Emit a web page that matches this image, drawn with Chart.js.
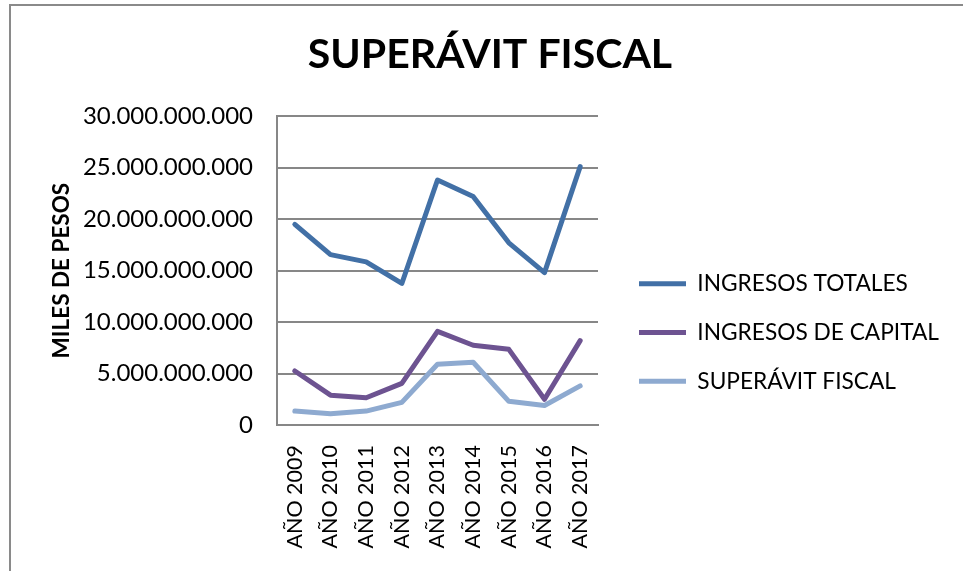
<!DOCTYPE html>
<html>
<head>
<meta charset="utf-8">
<script src="https://cdn.jsdelivr.net/npm/chart.js@4.4.0/dist/chart.umd.min.js"></script>
<style>
  body { margin: 0; background: #fff; }
  #wrap {
    position: absolute; left: 9px; top: 4px;
    width: 954px; height: 567px;
    border-top: 2px solid #8a8a8a; border-left: 2px solid #8a8a8a;
  }
  canvas { display: block; }
</style>
</head>
<body>
<div id="wrap"><canvas id="chart" width="952" height="565"></canvas></div>
<script>
// categories and series values (miles de pesos)
const years = ['AÑO 2009', 'AÑO 2010', 'AÑO 2011', 'AÑO 2012', 'AÑO 2013', 'AÑO 2014', 'AÑO 2015', 'AÑO 2016', 'AÑO 2017'];
const ingresosTotales = [19500000000, 16550000000, 15850000000, 13750000000, 23800000000, 22200000000, 17700000000, 14800000000, 25100000000];
const ingresosCapital = [5250000000, 2900000000, 2650000000, 4050000000, 9100000000, 7750000000, 7350000000, 2500000000, 8200000000];
const superavitFiscal = [1350000000, 1100000000, 1350000000, 2200000000, 5900000000, 6100000000, 2300000000, 1900000000, 3800000000];
const yTicks = [0, 5000000000, 10000000000, 15000000000, 20000000000, 25000000000, 30000000000];

const FONT = 'Lato, "Liberation Sans", sans-serif';
const gridColor = '#878787';
const LEGEND_WIDTH = 341;

function formatMiles(v) {
    return String(v).replace(/\B(?=(\d{3})+(?!\d))/g, '.');
}

function makeSeries(label, data, color) {
    return {
        label: label,
        data: data,
        borderColor: color,
        backgroundColor: color,
        borderWidth: 5,
        borderCapStyle: 'round',
        borderJoinStyle: 'round',
        pointRadius: 0,
        pointHoverRadius: 0,
        tension: 0,
        fill: false
    };
}

// Excel gives the legend a wide box on the right and sits it lower than Chart.js does
const legendShift = {
    id: 'legendShift',
    beforeLayout(chart) {
        const lg = chart.legend;
        if (lg && !lg._wideFit) {
            const fit = lg.fit.bind(lg);
            lg.fit = function () {
                fit();
                this.width = LEGEND_WIDTH;
            };
            lg._wideFit = true;
        }
    },
    afterLayout(chart) {
        const lg = chart.legend;
        const dx = 15, dy = 44;
        lg.left += dx;
        lg.right = lg.left + LEGEND_WIDTH;
        lg.top += dy;
        lg.bottom += dy;
    }
};

const ctx = document.getElementById('chart').getContext('2d');
const chart = new Chart(ctx, {
    type: 'line',
    data: {
        labels: years,
        datasets: [
            makeSeries('INGRESOS TOTALES', ingresosTotales, '#4270a6'),
            makeSeries('INGRESOS DE CAPITAL', ingresosCapital, '#6d5391'),
            makeSeries('SUPERÁVIT FISCAL', superavitFiscal, '#8eaad0')
        ]
    },
    options: {
        responsive: false,
        animation: false,
        devicePixelRatio: 1,
        layout: { padding: { left: 30, right: 24, top: 0, bottom: 0 } },
        plugins: {
            title: {
                display: true,
                text: 'SUPERÁVIT FISCAL',
                color: '#000',
                font: { family: FONT, size: 41, weight: 'bold' },
                padding: { top: 24, bottom: 37 }
            },
            legend: {
                position: 'right',
                labels: {
                    color: '#000',
                    font: { family: FONT, size: 22.7 },
                    usePointStyle: true,
                    pointStyle: 'line',
                    pointStyleWidth: 47,
                    padding: 26
                }
            },
            tooltip: { enabled: false }
        },
        scales: {
            x: {
                offset: true,
                grid: { display: false, drawTicks: false },
                border: { display: true, color: gridColor, width: 2 },
                ticks: {
                    color: '#000',
                    font: { family: FONT, size: 21.5 },
                    maxRotation: 90,
                    minRotation: 90,
                    padding: 20,
                    autoSkip: false
                },
                afterFit(scale) { scale.height = 146; }
            },
            y: {
                min: 0,
                max: 30000000000,
                afterBuildTicks(scale) { scale.ticks = yTicks.map(v => ({ value: v })); },
                grid: { color: gridColor, lineWidth: 2, drawTicks: false },
                border: { display: true, color: gridColor, width: 2 },
                ticks: {
                    color: '#000',
                    font: { family: FONT, size: 24 },
                    padding: 24,
                    callback: v => formatMiles(v)
                },
                title: {
                    display: true,
                    text: 'MILES DE PESOS',
                    color: '#000',
                    font: { family: FONT, size: 22.5, weight: 'bold' },
                    padding: { top: 7, bottom: 0 }
                },
                afterFit(scale) { scale.width = 236; }
            }
        }
    },
    plugins: [legendShift]
});
</script>
</body>
</html>
